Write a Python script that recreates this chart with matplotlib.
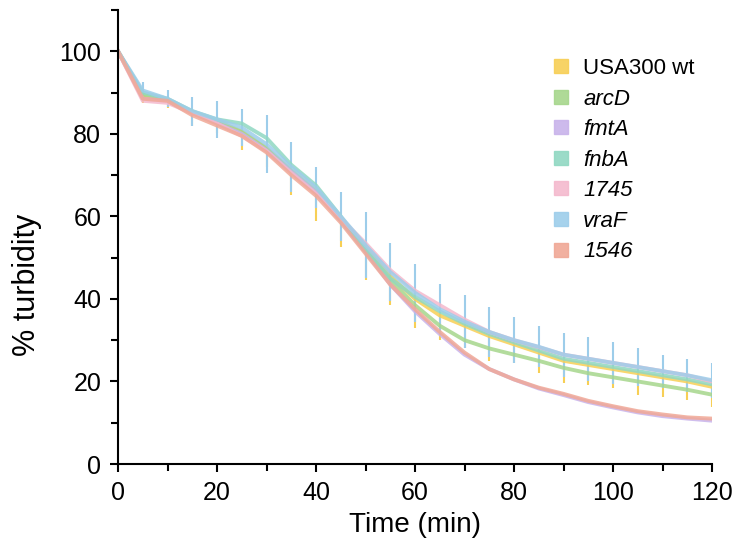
import matplotlib
matplotlib.use("Agg")
import matplotlib.pyplot as plt
from matplotlib.lines import Line2D
from matplotlib.ticker import MultipleLocator

plt.rcParams["font.family"] = ["Liberation Sans", "DejaVu Sans"]

# Sampling times (min)
time = [0, 5, 10, 15, 20, 25, 30, 35, 40, 45, 50, 55, 60,
        65, 70, 75, 80, 85, 90, 95, 100, 105, 110, 115, 120]

strains = ["USA300 wt", "arcD", "fmtA", "fnbA", "1745", "vraF", "1546"]

usa300_wt = [100, 89.5, 88.3, 85.3, 83.2, 80.5, 76.5, 71.2, 66.3, 59.5, 52.5, 45.5, 40.0,
             36.0, 33.5, 31.0, 29.0, 27.0, 25.0, 24.0, 23.0, 22.0, 21.0, 20.0, 18.7]
arcD = [100, 89.5, 88.2, 85.3, 83.0, 80.5, 76.5, 71.0, 66.0, 59.0, 51.5, 44.5, 38.5,
        33.5, 30.0, 28.0, 26.5, 25.0, 23.3, 22.0, 21.0, 20.0, 19.0, 18.0, 16.8]
fmtA = [100, 88.5, 88.0, 85.0, 82.5, 80.0, 76.0, 70.8, 65.8, 59.0, 51.5, 43.5, 37.0,
        31.5, 26.5, 23.0, 20.5, 18.3, 16.7, 15.0, 13.7, 12.5, 11.6, 11.0, 10.5]
fnbA = [100, 90.0, 88.5, 85.5, 83.5, 82.5, 79.0, 72.5, 67.5, 60.0, 52.0, 45.0, 40.5,
        37.0, 34.0, 31.5, 29.5, 27.5, 25.5, 24.5, 23.5, 22.5, 21.5, 20.5, 19.3]
sa1745 = [100, 88.0, 87.5, 85.0, 82.5, 79.5, 75.8, 70.5, 65.5, 59.5, 53.5, 47.0, 42.0,
          38.5, 35.0, 32.0, 30.0, 28.3, 26.5, 25.5, 24.5, 23.5, 22.5, 21.5, 20.0]
vraF = [100, 90.5, 88.5, 85.5, 83.5, 81.5, 77.5, 72.0, 67.0, 60.0, 53.0, 46.5, 41.5,
        37.5, 34.5, 32.0, 30.0, 28.4, 26.5, 25.5, 24.5, 23.5, 22.5, 21.5, 20.3]
sa1546 = [100, 88.5, 88.0, 84.5, 82.0, 79.5, 75.5, 70.0, 65.0, 58.5, 51.0, 43.5, 37.5,
          32.0, 27.0, 23.0, 20.5, 18.5, 17.0, 15.3, 14.0, 12.8, 12.0, 11.3, 11.0]

# Standard deviations
wt_err = [0, 2.0, 2.0, 3.5, 3.0, 4.5, 4.5, 6.0, 7.5, 7.0, 8.0, 7.0, 7.0,
          6.0, 5.5, 6.0, 4.5, 5.0, 5.3, 4.8, 4.6, 5.2, 4.7, 4.5, 4.8]
vraF_err = [0, 2.0, 2.0, 3.5, 4.5, 4.5, 7.0, 6.0, 5.0, 6.0, 8.0, 7.0, 7.0,
            6.0, 6.5, 6.0, 5.5, 5.0, 5.3, 5.3, 5.0, 4.6, 4.0, 4.0, 4.2]

colors = ["#F7CF55", "#A6D68C", "#C8B3EA", "#90D8C2", "#F4B9CD", "#9DCDEA", "#F0A896"]
series = [usa300_wt, arcD, fmtA, fnbA, sa1745, vraF, sa1546]

fig = plt.figure(figsize=(7.35, 5.42), dpi=100)
ax = fig.add_axes([118 / 735, 1 - 464 / 542, 594 / 735, 454 / 542])

# error bars under the curves
ax.errorbar(time, usa300_wt, yerr=[wt_err, [0] * len(time)], fmt="none",
            ecolor=colors[0], elinewidth=1.5, capsize=0, zorder=1)
ax.errorbar(time, vraF, yerr=vraF_err, fmt="none",
            ecolor=colors[5], elinewidth=1.5, capsize=0, zorder=1.5)

for vals, c in zip(series, colors):
    ax.plot(time, vals, color=c, lw=2.8, alpha=0.85, solid_joinstyle="round", zorder=2)

ax.set_xlim(0, 120)
ax.set_ylim(0, 110)
ax.xaxis.set_major_locator(MultipleLocator(20))
ax.xaxis.set_minor_locator(MultipleLocator(10))
ax.yaxis.set_minor_locator(MultipleLocator(10))
ax.set_yticks([0, 20, 40, 60, 80, 100])

for s in ["top", "right"]:
    ax.spines[s].set_visible(False)
for s in ["left", "bottom"]:
    ax.spines[s].set_linewidth(1.5)

ax.tick_params(which="major", direction="out", length=6, width=1.5, labelsize=18, pad=6)
ax.tick_params(which="minor", direction="out", length=5, width=1.5)

ax.set_xlabel("Time (min)", fontsize=20)
ax.set_ylabel("% turbidity", fontsize=22)
ax.xaxis.set_label_coords(0.5, -0.106)
ax.yaxis.set_label_coords(-0.128, 0.394)

handles = [Line2D([], [], marker="s", ls="none", color=c, markersize=10, alpha=0.9)
           for c in colors]
leg = fig.legend(handles, strains, loc="upper left",
                 bbox_to_anchor=(552 / 735, 1 - 58 / 542), frameon=False,
                 fontsize=16, handlelength=0.8, handletextpad=0.6,
                 labelspacing=0.43, borderpad=0, borderaxespad=0)
for t in leg.get_texts()[1:]:
    t.set_style("italic")

fig.savefig("out.png", dpi=100)
